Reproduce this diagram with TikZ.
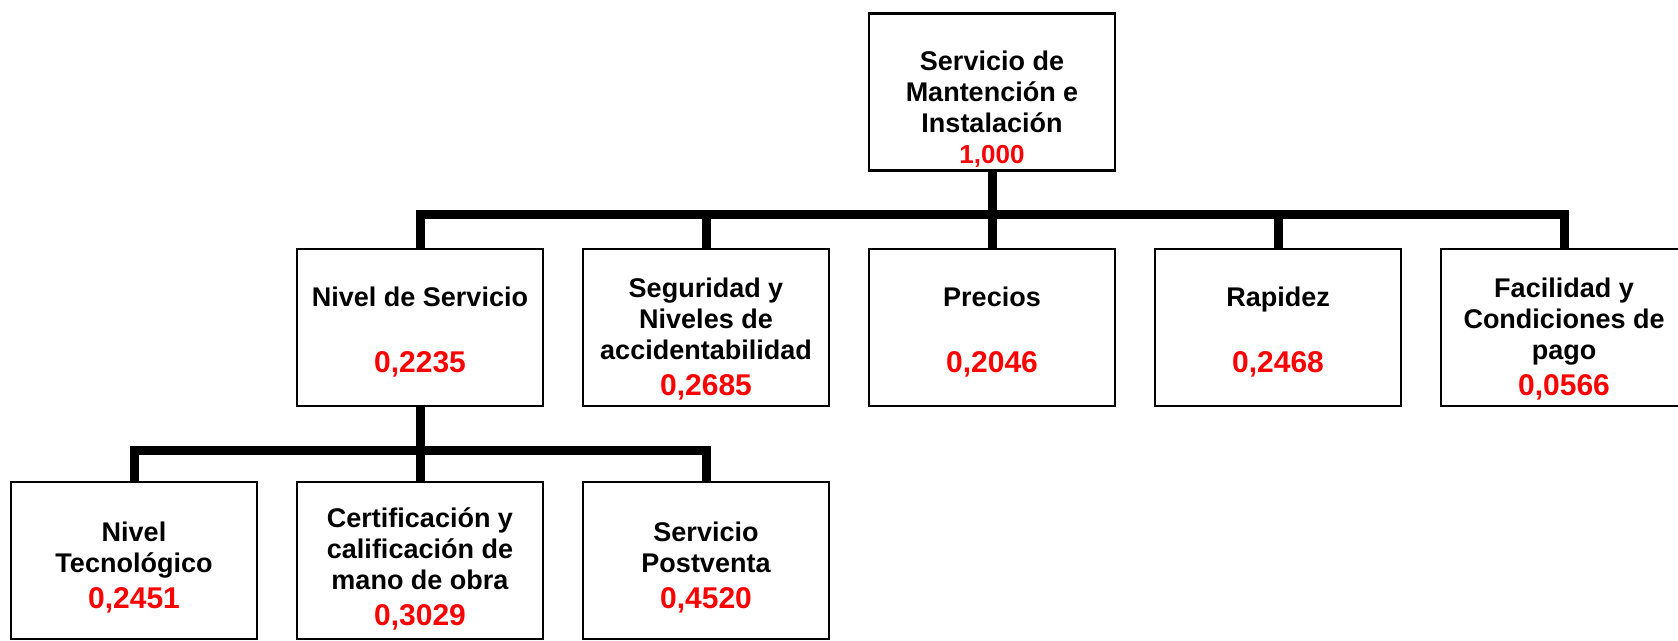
\documentclass[tikz,border=0pt]{standalone}
\usepackage{fontspec}
\setmainfont{Liberation Sans}
\usepackage{tikz}
\usetikzlibrary{positioning}
\usepackage{color}

% red weight under each criterion
\newcommand{\peso}[2][30]{{\color{red}\fontsize{#1}{31}\selectfont #2}}
% invisible strut that pushes the text down in its box
\newcommand{\baja}[1]{\rule{0pt}{#1}}

\begin{document}
\begin{tikzpicture}[
            x = 1pt, y = 1pt, % one unit per pixel
            node distance = 286pt, % distance between box centres
            font = \fontsize{27}{31}\selectfont\bfseries
        ]

        \tikzstyle{caja}=[
            draw = black,
            line width = 2.3pt,
            minimum width = 246pt,
            minimum height = 157pt,
            inner sep = 0pt,
            align = center
        ]
        \tikzstyle{barra}=[
            draw = black,
            line width = 9pt
        ]

        \useasboundingbox (0,0) rectangle (1678,-640);

        \node[caja] (top) at (992,-92) {\baja{55pt}Servicio de\\Mantención e\\Instalación\\\peso[26]{1,000}};
        \node[caja, node distance=235.5pt] (precios) [below of=top] {\baja{29.5pt}Precios\\[35pt]\peso{0,2046}};
        \node[caja] (seguridad) [left of=precios] {\baja{43.5pt}Seguridad y\\Niveles de\\accidentabilidad\\[5pt]\peso{0,2685}};
        \node[caja] (nivel) [left of=seguridad] {\baja{29.5pt}Nivel de Servicio\\[35pt]\peso{0,2235}};
        \node[caja] (rapidez) [right of=precios] {\baja{29.5pt}Rapidez\\[35pt]\peso{0,2468}};
        \node[caja] (facilidad) [right of=rapidez] {\baja{43.5pt}Facilidad y\\Condiciones de\\pago\\[5pt]\peso{0,0566}};

        \node[caja, node distance=233pt] (certificacion) [below of=nivel] {\baja{37.5pt}Certificación y\\calificación de\\mano de obra\\[5pt]\peso{0,3029}};
        \node[caja] (tecnologico) [left of=certificacion] {\baja{34.5pt}Nivel\\Tecnológico\\[5pt]\peso{0,2451}};
        \node[caja] (postventa) [right of=certificacion] {\baja{34.5pt}Servicio\\Postventa\\[5pt]\peso{0,4520}};

        \coordinate (j1) at (992,-214);
        \coordinate (j2) at (420,-450);

	\path[barra] (top.south) -- (j1);
	\path[barra] (nivel.north) |- (j1) -| (facilidad.north);
	\foreach \n in {seguridad, precios, rapidez}
	    \path[barra] (\n.north) -- (\n.north |- j1);
	\path[barra] (nivel.south) -- (j2);
	\path[barra] (tecnologico.north) |- (j2) -| (postventa.north);
	\path[barra] (certificacion.north) -- (j2);

    \end{tikzpicture}
\end{document}
